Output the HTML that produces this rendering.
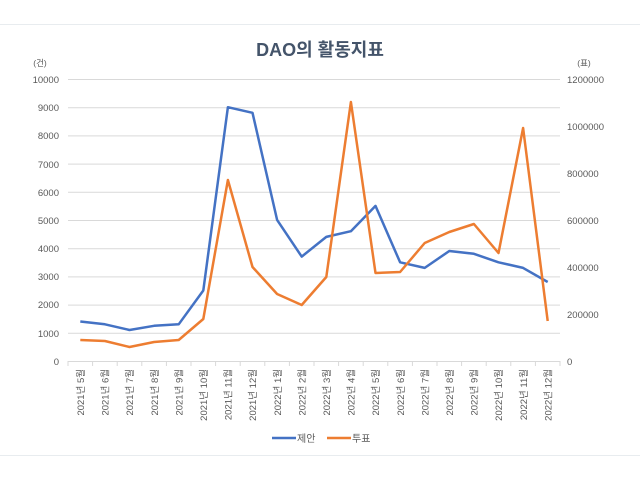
<!DOCTYPE html><html><head><meta charset="utf-8"><style>body{margin:0;background:#fff}svg{display:block}text{font-family:"Liberation Sans","Noto Sans CJK KR",sans-serif;fill:#595959}</style></head><body>
<svg width="640" height="480" viewBox="0 0 640 480">
<line x1="0" y1="24.5" x2="640" y2="24.5" stroke="#e8ecef"/>
<line x1="0" y1="455.5" x2="640" y2="455.5" stroke="#e8ecef"/>
<text x="320" y="56" text-anchor="middle" font-size="18" font-weight="bold" style="fill:#44546a">DAO의 활동지표</text>
<text x="40" y="66" text-anchor="middle" font-size="8.5">(건)</text>
<text x="584" y="66" text-anchor="middle" font-size="8.5">(표)</text>
<g stroke="#d9d9d9" stroke-width="1">
<line x1="68" x2="560" y1="79.5" y2="79.5"/><line x1="68" x2="560" y1="107.7" y2="107.7"/><line x1="68" x2="560" y1="135.9" y2="135.9"/><line x1="68" x2="560" y1="164.1" y2="164.1"/><line x1="68" x2="560" y1="192.3" y2="192.3"/><line x1="68" x2="560" y1="220.5" y2="220.5"/><line x1="68" x2="560" y1="248.7" y2="248.7"/><line x1="68" x2="560" y1="276.9" y2="276.9"/><line x1="68" x2="560" y1="305.1" y2="305.1"/><line x1="68" x2="560" y1="333.3" y2="333.3"/><line x1="68" x2="560" y1="361.5" y2="361.5"/>
</g>
<g font-size="9.5" text-anchor="end">
<text x="59" y="83">10000</text><text x="59" y="111">9000</text><text x="59" y="139">8000</text><text x="59" y="168">7000</text><text x="59" y="196">6000</text><text x="59" y="224">5000</text><text x="59" y="252">4000</text><text x="59" y="280">3000</text><text x="59" y="308">2000</text><text x="59" y="337">1000</text><text x="59" y="365">0</text>
</g>
<g font-size="9.5" text-anchor="start">
<text x="567" y="83">1200000</text><text x="567" y="177">800000</text><text x="567" y="224">600000</text><text x="567" y="130">1000000</text><text x="567" y="271">400000</text><text x="567" y="318">200000</text><text x="567" y="365">0</text>
</g>
<g stroke="#d9d9d9"><line x1="68" y1="361" x2="68" y2="366"/><line x1="92.6" y1="361" x2="92.6" y2="366"/><line x1="117.2" y1="361" x2="117.2" y2="366"/><line x1="141.8" y1="361" x2="141.8" y2="366"/><line x1="166.4" y1="361" x2="166.4" y2="366"/><line x1="191" y1="361" x2="191" y2="366"/><line x1="215.6" y1="361" x2="215.6" y2="366"/><line x1="240.2" y1="361" x2="240.2" y2="366"/><line x1="264.8" y1="361" x2="264.8" y2="366"/><line x1="289.4" y1="361" x2="289.4" y2="366"/><line x1="314" y1="361" x2="314" y2="366"/><line x1="338.6" y1="361" x2="338.6" y2="366"/><line x1="363.2" y1="361" x2="363.2" y2="366"/><line x1="387.8" y1="361" x2="387.8" y2="366"/><line x1="412.4" y1="361" x2="412.4" y2="366"/><line x1="437" y1="361" x2="437" y2="366"/><line x1="461.6" y1="361" x2="461.6" y2="366"/><line x1="486.2" y1="361" x2="486.2" y2="366"/><line x1="510.8" y1="361" x2="510.8" y2="366"/><line x1="535.4" y1="361" x2="535.4" y2="366"/><line x1="560" y1="361" x2="560" y2="366"/></g>
<g font-size="9.5" text-anchor="end">
<text transform="translate(84,369) rotate(-90)">2021년 5월</text>
<text transform="translate(108.6,369) rotate(-90)">2021년 6월</text>
<text transform="translate(133.2,369) rotate(-90)">2021년 7월</text>
<text transform="translate(157.8,369) rotate(-90)">2021년 8월</text>
<text transform="translate(182.4,369) rotate(-90)">2021년 9월</text>
<text transform="translate(207,369) rotate(-90)">2021년 10월</text>
<text transform="translate(231.6,369) rotate(-90)">2021년 11월</text>
<text transform="translate(256.2,369) rotate(-90)">2021년 12월</text>
<text transform="translate(280.8,369) rotate(-90)">2022년 1월</text>
<text transform="translate(305.4,369) rotate(-90)">2022년 2월</text>
<text transform="translate(330,369) rotate(-90)">2022년 3월</text>
<text transform="translate(354.6,369) rotate(-90)">2022년 4월</text>
<text transform="translate(379.2,369) rotate(-90)">2022년 5월</text>
<text transform="translate(403.8,369) rotate(-90)">2022년 6월</text>
<text transform="translate(428.4,369) rotate(-90)">2022년 7월</text>
<text transform="translate(453,369) rotate(-90)">2022년 8월</text>
<text transform="translate(477.6,369) rotate(-90)">2022년 9월</text>
<text transform="translate(502.2,369) rotate(-90)">2022년 10월</text>
<text transform="translate(526.8,369) rotate(-90)">2022년 11월</text>
<text transform="translate(551.4,369) rotate(-90)">2022년 12월</text>
</g>
<polyline fill="none" stroke="#4472c4" stroke-width="2.5" stroke-linejoin="round" points="80.3,321.5 104.9,324.3 129.5,330 154.1,325.8 178.7,324.3 203.3,290.5 227.9,107.2 252.5,112.8 277.1,219.9 301.7,256.6 326.3,236.9 350.9,231.2 375.5,205.9 400.1,262.3 424.7,267.9 449.3,251 473.9,253.8 498.5,262.3 523.1,267.9 547.7,282"/>
<polyline fill="none" stroke="#ed7d31" stroke-width="2.5" stroke-linejoin="round" points="80.3,340 104.9,341 129.5,347 154.1,342 178.7,340 203.3,319 227.9,180 252.5,267 277.1,294 301.7,305 326.3,277 350.9,102 375.5,273 400.1,272 424.7,243 449.3,232 473.9,224 498.5,253 523.1,128 547.7,321"/>
<line x1="272" y1="438" x2="296" y2="438" stroke="#4472c4" stroke-width="2.5"/>
<text x="297" y="442" font-size="10">제안</text>
<line x1="327" y1="438" x2="351" y2="438" stroke="#ed7d31" stroke-width="2.5"/>
<text x="352" y="442" font-size="10">투표</text>
</svg></body></html>
